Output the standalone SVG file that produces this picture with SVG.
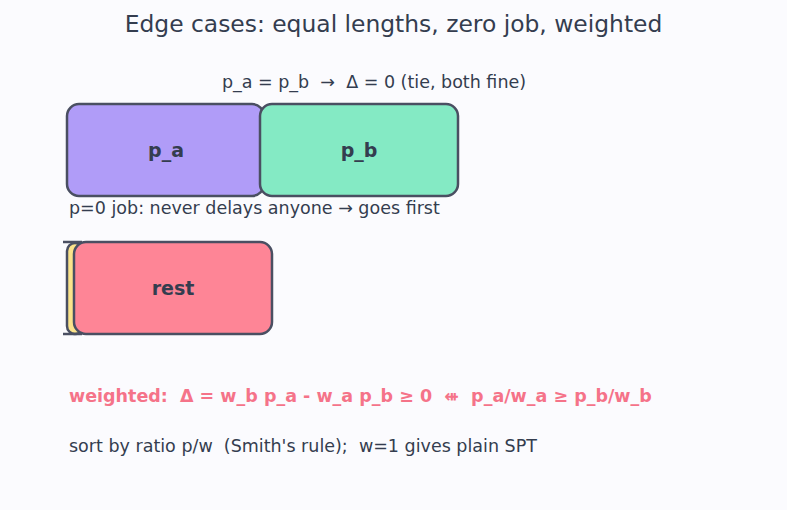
<svg xmlns="http://www.w3.org/2000/svg" width="787" height="510" viewBox="0 0 787 510">
<style>
text{white-space:pre}
.t{font-family:"DejaVu Sans",sans-serif;fill:#343d4f}
.box{stroke:#4a4f62;stroke-width:2.5}
.lbl{font-family:"DejaVu Sans",sans-serif;font-weight:bold;font-size:19px;fill:#343d4f;text-anchor:middle}
</style>
<rect width="787" height="510" fill="#fbfbfe"/>
<text class="t" x="393.5" y="32" font-size="23.4" text-anchor="middle">Edge cases: equal lengths, zero job, weighted</text>
<text class="t" x="374" y="88" font-size="17.5" text-anchor="middle" xml:space="preserve">p_a = p_b  →  Δ = 0 (tie, both fine)</text>
<g id="node-pa">
<rect class="box" x="67" y="104" width="197" height="92" rx="12" fill="#b09cf8"/>
<text class="lbl" x="166" y="157">p_a</text>
</g>
<g id="node-pb">
<rect class="box" x="260" y="104" width="198" height="92" rx="12" fill="#84eac4"/>
<text class="lbl" x="359" y="157">p_b</text>
</g>
<text class="t" x="69" y="214" font-size="17.5">p=0 job: never delays anyone → goes first</text>
<g id="node-zero">
<rect class="box" x="67" y="243" width="16" height="91" rx="8" fill="#fbe38b"/>
</g>
<g id="node-rest">
<rect class="box" x="74" y="242" width="198" height="92" rx="12" fill="#fe8596"/>
<text class="lbl" x="173" y="295">rest</text>
</g>
<g id="connectors">
<path d="M63 242H82M63 334H82" stroke="#4a4f62" stroke-width="2.5" fill="none"/>
</g>
<text x="69" y="402" font-size="17.5" font-weight="bold" font-family="DejaVu Sans,sans-serif" fill="#f57389" xml:space="preserve">weighted:  Δ = w_b p_a - w_a p_b ≥ 0  ⇺  p_a/w_a ≥ p_b/w_b</text>
<text class="t" x="69" y="452" font-size="17.5" xml:space="preserve">sort by ratio p/w  (Smith's rule);  w=1 gives plain SPT</text>
</svg>
